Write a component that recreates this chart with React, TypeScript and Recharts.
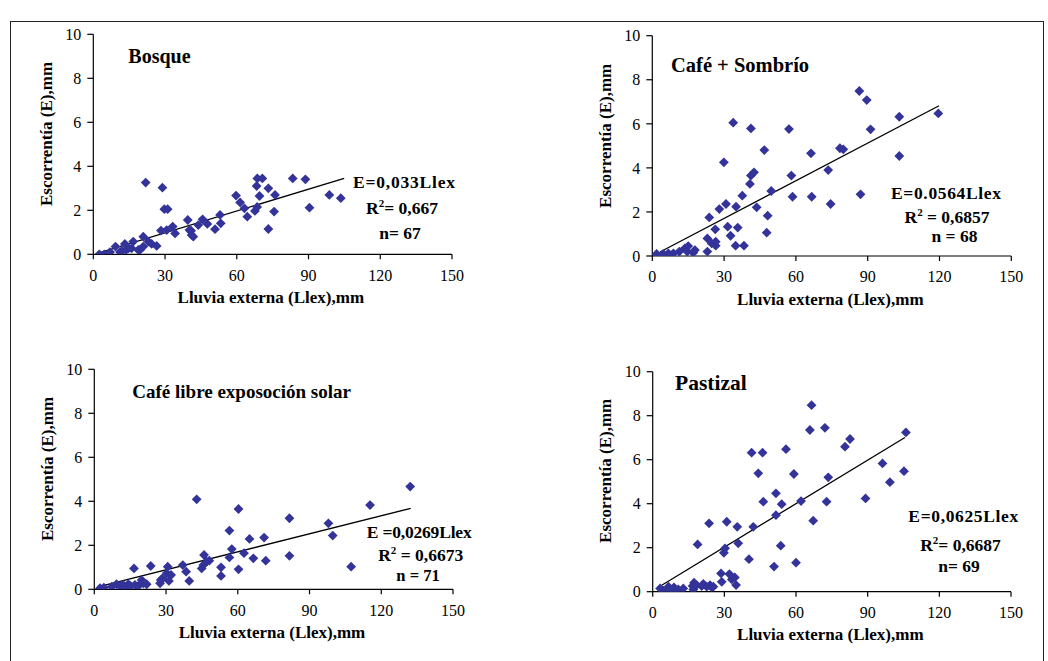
import React from "react";
import { ScatterChart, Scatter, XAxis, YAxis, ReferenceLine } from "recharts";

// ---------- Data ----------
const xTicks = [0, 30, 60, 90, 120, 150];
const yTicks = [0, 2, 4, 6, 8, 10];

const bosqueX = [2.5, 4.6, 7.0, 9.3, 11.2, 12, 13.2, 13.7, 14.7, 16, 16.7, 18.8, 19.5, 20.9, 20.9, 23, 24.4, 26.5, 21.9, 28.9, 29.7, 31.1, 28.3, 30.7, 33.2, 34.2, 39.5, 40.2, 40.9, 41.1, 41.8, 43.9, 45.7, 47.7, 50.9, 53, 53.3, 59.7, 61.4, 63.2, 64.4, 67.6, 68.5, 68.3, 68.6, 70.7, 69.5, 73.2, 73.2, 76, 75.6, 83.4, 88.7, 90.4, 98.7, 103.5];
const bosqueY = [0, 0, 0.1, 0.35, 0.1, 0.15, 0.47, 0.2, 0.27, 0.27, 0.58, 0.2, 0.2, 0.8, 0.35, 0.58, 0.47, 0.38, 3.26, 3.03, 2.05, 2.05, 1.08, 1.1, 1.26, 0.95, 1.56, 1.1, 1.07, 0.88, 0.8, 1.33, 1.59, 1.38, 1.14, 1.79, 1.41, 2.67, 2.36, 2.09, 1.71, 1.97, 2.15, 3.1, 3.45, 3.45, 2.65, 3.0, 1.15, 2.7, 1.94, 3.45, 3.41, 2.12, 2.7, 2.55];
const bosqueTrendX = [2.8, 104.9];
const bosqueTrendY = [0.08, 3.45];

const sombrioX = [1.8, 4.6, 6.7, 8.8, 11.3, 13.6, 15, 14.6, 17.1, 17.8, 23, 23, 23.8, 24.8, 26.5, 26.5, 26.3, 28, 29.9, 30.8, 31.5, 32.7, 33.8, 34.8, 35, 35.7, 37.6, 38.3, 40.8, 41.2, 41.2, 42.5, 43.6, 46.8, 47.8, 48.2, 49.7, 57.1, 58.1, 58.6, 66.3, 66.6, 73.5, 74.5, 78.4, 79.8, 86.5, 87, 89.6, 91.2, 103.2, 103.2, 119.5];
const sombrioY = [0.09, 0.09, 0.12, 0.12, 0.2, 0.35, 0.45, 0.2, 0.15, 0.27, 0.2, 0.8, 1.75, 0.57, 0.65, 0.47, 1.21, 2.13, 4.25, 2.36, 1.33, 0.92, 6.05, 0.47, 2.24, 1.29, 2.74, 0.47, 3.27, 5.79, 3.65, 3.8, 2.21, 4.81, 1.06, 1.83, 2.95, 5.76, 3.65, 2.69, 4.66, 2.69, 3.9, 2.36, 4.89, 4.84, 7.49, 2.8, 7.08, 5.75, 6.32, 4.54, 6.47];
const sombrioTrendX = [3.2, 119.8];
const sombrioTrendY = [0.18, 6.82];

const solX = [2.4, 4, 7.3, 9.3, 10.7, 12.1, 12.8, 14.2, 15.2, 17, 18.4, 19.8, 20.5, 21.9, 16.6, 23.6, 27.5, 27.8, 28.5, 30.7, 31.2, 30.3, 32.1, 37, 38.4, 39.7, 42.8, 44.9, 45.6, 45.9, 47, 48.1, 53, 53, 56.5, 56.5, 57.5, 60.3, 60.3, 62.6, 64.9, 66.5, 71, 71.7, 81.6, 81.6, 97.9, 99.7, 107.4, 115.3, 132.1];
const solY = [0.05, 0.08, 0.12, 0.23, 0.15, 0.2, 0.09, 0.23, 0.15, 0.2, 0.15, 0.42, 0.27, 0.23, 0.95, 1.06, 0.27, 0.42, 0.5, 1.03, 0.38, 0.73, 0.65, 1.1, 0.8, 0.38, 4.09, 0.95, 1.1, 1.56, 1.26, 1.3, 0.61, 1.0, 2.67, 1.45, 1.83, 3.65, 0.91, 1.64, 2.29, 1.41, 2.35, 1.3, 3.23, 1.52, 3.0, 2.44, 1.03, 3.83, 4.67];
const solTrendX = [2.4, 132.3];
const solTrendY = [0.13, 3.68];

const pastizalX = [3.1, 4.5, 6.6, 7.3, 8.6, 8.9, 10.7, 12.8, 16.7, 17.3, 17, 18.4, 20.5, 21.2, 22.6, 24, 24.7, 25.4, 18.8, 23.6, 28.6, 28.9, 29.8, 30.3, 31, 32.1, 33.1, 34.4, 34.9, 35.4, 35.8, 40.3, 41.4, 42.1, 46, 44.2, 46.3, 51.6, 51.6, 50.8, 53.6, 54, 55.8, 59.1, 60, 62.1, 65.8, 66.5, 67.2, 72.1, 73.5, 72.8, 82.6, 80.5, 89.1, 96.2, 99.3, 105.2, 106];
const pastizalY = [0.15, 0.05, 0.23, 0.1, 0.08, 0.2, 0.1, 0.15, 0.26, 0.41, 0.1, 0.3, 0.26, 0.35, 0.23, 0.3, 0.2, 0.23, 2.15, 3.11, 0.83, 0.45, 1.77, 1.97, 3.18, 0.8, 0.56, 0.65, 0.3, 2.95, 2.2, 1.48, 6.32, 2.95, 6.32, 5.38, 4.09, 4.47, 3.48, 1.14, 2.09, 3.98, 6.48, 5.35, 1.32, 4.12, 7.35, 8.48, 3.23, 7.45, 5.2, 4.09, 6.94, 6.59, 4.24, 5.83, 4.98, 5.48, 7.24];
const pastizalTrendX = [3.1, 105.6];
const pastizalTrendY = [0.25, 7.01];

// ---------- Styling ----------
const W = 1048;
const H = 661;
const FONT = "'Liberation Serif', 'Times New Roman', serif";
const MARK = "#333399";
const Y_AXIS_W = 40;
const X_AXIS_H = 30;
const TICK_FS = 16;

const Diamond = (props: any) => {
  const { cx, cy } = props;
  if (cx == null || cy == null) return <g />;
  const r = 4.9;
  return (
    <path
      d={`M${cx},${cy - r}L${cx + r},${cy}L${cx},${cy + r}L${cx - r},${cy}Z`}
      fill={MARK}
    />
  );
};

const XTick = (p: any) => (
  <text x={p.x} y={p.y} dy="0.71em" textAnchor="middle" fontFamily={FONT} fontSize={TICK_FS} fill="#000">
    {p.payload.value}
  </text>
);

const YTick = (p: any) => (
  <text x={p.x} y={p.y} dy="0.355em" textAnchor="end" fontFamily={FONT} fontSize={TICK_FS} fill="#000">
    {p.payload.value}
  </text>
);

type PanelProps = {
  xs: number[];
  ys: number[];
  tx: number[];
  ty: number[];
  left: number;
  top: number;
  right: number;
  bottom: number;
};

const Panel = ({ xs, ys, tx, ty, left, top, right, bottom }: PanelProps) => {
  const data = xs.map((x, i) => ({ x, y: ys[i] }));
  return (
    <div style={{ position: "absolute", left: 0, top: 0, width: W, height: H }}>
      <ScatterChart
        width={W}
        height={H}
        style={{ fontFamily: FONT }}
        margin={{
          top,
          left: left - Y_AXIS_W,
          right: W - right,
          bottom: H - bottom - X_AXIS_H,
        }}
      >
        <XAxis
          type="number"
          dataKey="x"
          domain={[0, 150]}
          ticks={xTicks}
          interval={0}
          height={X_AXIS_H}
          tickSize={5}
          tickMargin={10}
          axisLine={{ stroke: "#000", strokeWidth: 1.2 }}
          tickLine={{ stroke: "#000", strokeWidth: 1.2 }}
          tick={XTick}
          allowDataOverflow
        />
        <YAxis
          type="number"
          dataKey="y"
          domain={[0, 10]}
          ticks={yTicks}
          interval={0}
          width={Y_AXIS_W}
          tickSize={6}
          tickMargin={6}
          axisLine={{ stroke: "#000", strokeWidth: 1.2 }}
          tickLine={{ stroke: "#000", strokeWidth: 1.2 }}
          tick={YTick}
          allowDataOverflow
        />
        <Scatter data={data} shape={Diamond} isAnimationActive={false} />
        <ReferenceLine
          segment={[
            { x: tx[0], y: ty[0] },
            { x: tx[1], y: ty[1] },
          ]}
          stroke="#000"
          strokeWidth={1.3}
          ifOverflow="visible"
        />
      </ScatterChart>
    </div>
  );
};

const R2 = ({ x, y, pre, val }: { x: number; y: number; pre: string; val: string }) => (
  <text x={x} y={y} textAnchor="middle" fontFamily={FONT} fontWeight="bold" fontSize={17.5} fill="#000">
    <tspan>R</tspan>
    <tspan dy={-7} fontSize={11}>2</tspan>
    <tspan dy={7}>{pre + val}</tspan>
  </text>
);

const Bold = ({ x, y, size, children, anchor = "start", len }: any) => (
  <text
    x={x}
    y={y}
    textAnchor={anchor}
    fontFamily={FONT}
    fontWeight="bold"
    fontSize={size}
    fill="#000"
    {...(len ? { textLength: len, lengthAdjust: "spacing" } : {})}
  >
    {children}
  </text>
);

const YTitle = ({ x, y }: { x: number; y: number }) => (
  <text
    x={x}
    y={y}
    transform={`rotate(-90 ${x} ${y})`}
    textAnchor="middle"
    dominantBaseline="central"
    fontFamily={FONT}
    fontWeight="bold"
    fontSize={17}
    fill="#000"
  >
    Escorrentía (E),mm
  </text>
);

const XTitle = ({ x, y }: { x: number; y: number }) => (
  <Bold x={x} y={y} size={17} anchor="middle">
    Lluvia externa (Llex),mm
  </Bold>
);

export default function App() {
  return (
    <div
      style={{
        position: "absolute",
        left: 0,
        top: 0,
        width: W,
        height: H,
        background: "#fff",
        overflow: "hidden",
      }}
    >
      <div
        style={{
          position: "absolute",
          left: 10,
          top: 21,
          width: 1032,
          height: 700,
          borderTop: "1px solid #222",
          borderLeft: "1.5px solid #222",
          borderRight: "1px solid #222",
        }}
      />
      <Panel xs={bosqueX} ys={bosqueY} tx={bosqueTrendX} ty={bosqueTrendY} left={93.3} top={34.3} right={452} bottom={254.3} />
      <Panel xs={sombrioX} ys={sombrioY} tx={sombrioTrendX} ty={sombrioTrendY} left={652.3} top={35.7} right={1011.3} bottom={256} />
      <Panel xs={solX} ys={solY} tx={solTrendX} ty={solTrendY} left={94.3} top={369.3} right={453} bottom={589.3} />
      <Panel xs={pastizalX} ys={pastizalY} tx={pastizalTrendX} ty={pastizalTrendY} left={652.7} top={371.7} right={1011} bottom={591.7} />

      <svg width={W} height={H} style={{ position: "absolute", left: 0, top: 0, pointerEvents: "none" }}>
        {/* Panel titles */}
        <Bold x={128.3} y={62.7} size={20}>Bosque</Bold>
        <Bold x={671} y={71.7} size={20.5}>Café + Sombrío</Bold>
        <Bold x={132.3} y={398.3} size={19}>Café libre exposoción solar</Bold>
        <Bold x={675} y={390} size={21.5}>Pastizal</Bold>

        {/* Axis titles */}
        <YTitle x={46.7} y={134} />
        <YTitle x={606} y={135.8} />
        <YTitle x={47.7} y={469} />
        <YTitle x={606} y={470.8} />
        <XTitle x={270.8} y={303.3} />
        <XTitle x={830.3} y={305} />
        <XTitle x={272} y={638.3} />
        <XTitle x={830.3} y={640} />

        {/* Equations */}
        <Bold x={353} y={187.7} size={17.5} len={102}>E=0,033Llex</Bold>
        <R2 x={402} y={214.3} pre="= " val="0,667" />
        <Bold x={400} y={239} size={17.5} anchor="middle">n= 67</Bold>

        <Bold x={891} y={199} size={17.5} len={110}>E=0.0564Llex</Bold>
        <R2 x={947} y={222.7} pre=" = " val="0,6857" />
        <Bold x={954.5} y={241.7} size={17.5} anchor="middle">n = 68</Bold>

        <Bold x={366.7} y={537.5} size={17.5} len={105}>E =0,0269Llex</Bold>
        <R2 x={420.7} y={561} pre=" = " val="0,6673" />
        <Bold x={418} y={581} size={16.5} anchor="middle">n = 71</Bold>

        <Bold x={908.3} y={522.3} size={17.5} len={110}>E=0,0625Llex</Bold>
        <R2 x={960.5} y={551} pre="= " val="0,6687" />
        <Bold x={959} y={571.7} size={17.5} anchor="middle">n= 69</Bold>
      </svg>
    </div>
  );
}
